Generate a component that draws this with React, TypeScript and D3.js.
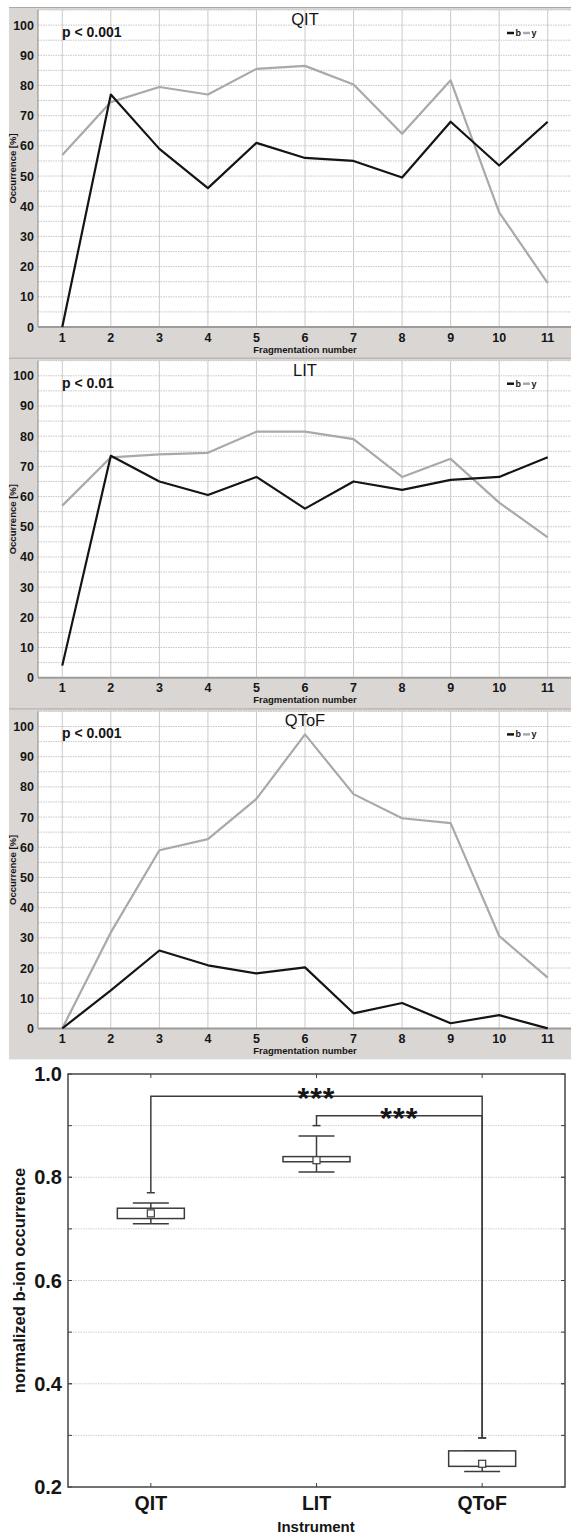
import React from "react";
import * as d3 from "d3";

// Fragmentation numbers on the x axis of the three line panels
const fragmentNumbers = [1, 2, 3, 4, 5, 6, 7, 8, 9, 10, 11];
const occurrenceTicks = [0, 10, 20, 30, 40, 50, 60, 70, 80, 90, 100];
const occurrenceGrid = [5, 10, 15, 20, 25, 30, 35, 40, 45, 50, 55, 60, 65, 70, 75, 80, 85, 90, 95, 100, 105];

// Occurrence [%] of b ions and y ions per fragmentation number
const qitB = [0, 77, 59, 46, 61, 56, 55, 49.5, 68, 53.5, 68];
const qitY = [57, 74.5, 79.5, 77, 85.5, 86.5, 80.3, 64, 81.7, 38, 14.5];
const litB = [4, 73.5, 65, 60.5, 66.5, 56, 65, 62.2, 65.5, 66.5, 73];
const litY = [57, 73, 74, 74.5, 81.5, 81.5, 79, 66.5, 72.5, 58, 46.5];
const qtofB = [0, 12.6, 25.8, 20.9, 18.2, 20.2, 5, 8.4, 1.7, 4.4, 0];
const qtofY = [0, 31.8, 59, 62.7, 76, 97.4, 77.6, 69.6, 68, 30.6, 16.8];

const panelTitles = ["QIT", "LIT", "QToF"];
const panelPValues = ["p < 0.001", "p < 0.01", "p < 0.001"];
const panelB = [qitB, litB, qtofB];
const panelY = [qitY, litY, qtofY];

// Normalized b-ion occurrence per instrument
const instruments = ["QIT", "LIT", "QToF"];
const whiskerLow = [0.71, 0.81, 0.23];
const boxLow = [0.72, 0.83, 0.24];
const meanValue = [0.73, 0.833, 0.245];
const boxHigh = [0.74, 0.84, 0.27];
const whiskerHigh = [0.75, 0.88, 0.27];
const normTicks = [0.2, 0.4, 0.6, 0.8, 1.0];
const normGrid = [0.3, 0.4, 0.5, 0.6, 0.7, 0.8, 0.9];

// Significance brackets between instruments
const bracketFrom = ["QIT", "LIT"];
const bracketTo = ["QToF", "QToF"];
const bracketFromEnd = [0.77, 0.9];
const bracketToEnd = [0.295, 0.295];
const bracketLevel = [0.957, 0.919];
const bracketLabel = ["***", "***"];

const FONT = "'Liberation Sans', Arial, Helvetica, sans-serif";
const PANEL_BG = "#dad6d4";
const TEXT = "#151515";

const W = 571;
const H = 1537;

function LinePanel({ index }: { index: number }) {
  const top = 7 + index * 350.7;
  const plotTop = top + 3;
  const plotBottom = top + 320;
  const x = d3.scaleLinear().domain([0.5, 11.5]).range([38, 572]);
  const y = d3.scaleLinear().domain([0, 105]).range([plotBottom, plotTop]);
  const line = d3
    .line<number>()
    .x((_, i) => x(fragmentNumbers[i]))
    .y((d) => y(d));
  const midY = (plotTop + plotBottom) / 2;
  return (
    <g>
      <rect x={9} y={top} width={W - 9} height={351} fill={PANEL_BG} />
      <line x1={9} x2={W} y1={top + 0.5} y2={top + 0.5} stroke="#aea9a7" strokeWidth={1} />
      <rect x={38} y={plotTop} width={W - 38} height={plotBottom - plotTop} fill="#fff" />
      {occurrenceGrid.map((v) => (
        <line
          key={"h" + v}
          x1={38}
          x2={W}
          y1={y(v)}
          y2={y(v)}
          stroke="#c6c6c6"
          strokeWidth={1}
          strokeDasharray="1.5,1"
        />
      ))}
      {fragmentNumbers.map((f) => (
        <line key={"v" + f} x1={x(f)} x2={x(f)} y1={plotTop} y2={plotBottom} stroke="#cacaca" strokeWidth={1} />
      ))}
      <line x1={38} x2={38} y1={plotTop} y2={plotBottom} stroke="#8a8a8a" strokeWidth={1} />
      <line x1={38} x2={W} y1={plotBottom} y2={plotBottom} stroke="#9c9c9c" strokeWidth={2} />
      <path d={line(panelY[index]) || ""} fill="none" stroke="#a9a9a9" strokeWidth={2.2} strokeLinejoin="round" />
      <path d={line(panelB[index]) || ""} fill="none" stroke="#141414" strokeWidth={2.2} strokeLinejoin="round" />
      {occurrenceTicks.map((v) => (
        <text
          key={"yt" + v}
          x={34}
          y={y(v) + 4.5}
          textAnchor="end"
          fontSize={12.5}
          fontWeight="bold"
          fill={TEXT}
          fontFamily={FONT}
        >
          {v}
        </text>
      ))}
      {fragmentNumbers.map((f) => (
        <text
          key={"xt" + f}
          x={x(f)}
          y={plotBottom + 14.5}
          textAnchor="middle"
          fontSize={12.5}
          fontWeight="bold"
          fill={TEXT}
          fontFamily={FONT}
        >
          {f}
        </text>
      ))}
      <text
        x={305}
        y={plotBottom + 25.5}
        textAnchor="middle"
        fontSize={9.5}
        fontWeight="bold"
        fill={TEXT}
        fontFamily={FONT}
      >
        Fragmentation number
      </text>
      <text
        transform={`translate(16,${midY}) rotate(-90)`}
        textAnchor="middle"
        fontSize={9.5}
        fontWeight="bold"
        fill={TEXT}
        fontFamily={FONT}
      >
        Occurrence [%]
      </text>
      <text x={305} y={top + 18} textAnchor="middle" fontSize={16.5} fill={TEXT} fontFamily={FONT}>
        {panelTitles[index]}
      </text>
      <text x={62} y={top + 30} fontSize={14} fontWeight="bold" fill={TEXT} fontFamily={FONT}>
        {panelPValues[index]}
      </text>
      <line x1={507} x2={514} y1={top + 26} y2={top + 26} stroke="#141414" strokeWidth={2.5} />
      <text x={515.5} y={top + 29} fontSize={9} fontWeight="bold" fill={TEXT} fontFamily={FONT}>
        b
      </text>
      <line x1={523} x2={530} y1={top + 26} y2={top + 26} stroke="#a9a9a9" strokeWidth={2.5} />
      <text x={531.5} y={top + 29} fontSize={9} fontWeight="bold" fill={TEXT} fontFamily={FONT}>
        y
      </text>
    </g>
  );
}

function BoxPanel() {
  const left = 68;
  const right = 565;
  const x = d3.scalePoint<string>().domain(instruments).range([left, right]).padding(0.5);
  const y = d3.scaleLinear().domain([0.2, 1.0]).range([1487, 1074]);
  const stroke = "#3c3c3c";
  const boxW = 67;
  const capW = 36;
  const sq = 7;
  return (
    <g>
      {normGrid.map((v) => (
        <line
          key={"g" + v}
          x1={left}
          x2={right}
          y1={y(v)}
          y2={y(v)}
          stroke="#cfcfcf"
          strokeWidth={1}
          strokeDasharray="1.5,1"
        />
      ))}
      <rect x={left} y={y(1.0)} width={right - left} height={y(0.2) - y(1.0)} fill="none" stroke="#444" strokeWidth={1.5} />
      {normGrid.concat(normTicks).map((v, i) => (
        <g key={"tk" + i}>
          <line x1={left} x2={left + 4} y1={y(v)} y2={y(v)} stroke="#444" strokeWidth={1} />
          <line x1={right - 4} x2={right} y1={y(v)} y2={y(v)} stroke="#444" strokeWidth={1} />
        </g>
      ))}
      {instruments.map((name) => (
        <g key={"xt" + name}>
          <line x1={x(name)} x2={x(name)} y1={y(1.0)} y2={y(1.0) + 4} stroke="#444" strokeWidth={1} />
          <line x1={x(name)} x2={x(name)} y1={y(0.2)} y2={y(0.2) - 4} stroke="#444" strokeWidth={1} />
        </g>
      ))}
      {instruments.map((name, i) => {
        const cx = x(name) as number;
        return (
          <g key={"box" + name} stroke={stroke} fill="none" strokeWidth={1.5}>
            <line x1={cx} x2={cx} y1={y(whiskerHigh[i])} y2={y(boxHigh[i])} />
            <line x1={cx} x2={cx} y1={y(boxLow[i])} y2={y(whiskerLow[i])} />
            <line x1={cx - capW / 2} x2={cx + capW / 2} y1={y(whiskerHigh[i])} y2={y(whiskerHigh[i])} />
            <line x1={cx - capW / 2} x2={cx + capW / 2} y1={y(whiskerLow[i])} y2={y(whiskerLow[i])} />
            <rect
              x={cx - boxW / 2}
              y={y(boxHigh[i])}
              width={boxW}
              height={y(boxLow[i]) - y(boxHigh[i])}
              fill="#fff"
            />
            <rect x={cx - sq / 2} y={y(meanValue[i]) - sq / 2} width={sq} height={sq} fill="#fff" strokeWidth={1.2} />
          </g>
        );
      })}
      {bracketFrom.map((from, i) => {
        const x1 = x(from) as number;
        const x2 = x(bracketTo[i]) as number;
        const yl = y(bracketLevel[i]);
        const p = d3.path();
        p.moveTo(x1, y(bracketFromEnd[i]));
        p.lineTo(x1, yl);
        p.lineTo(x2, yl);
        p.lineTo(x2, y(bracketToEnd[i]));
        return (
          <g key={"br" + i}>
            <path d={p.toString()} fill="none" stroke={stroke} strokeWidth={1.5} />
            <line
              x1={x1 - 4}
              x2={x1 + 4}
              y1={y(bracketFromEnd[i])}
              y2={y(bracketFromEnd[i])}
              stroke={stroke}
              strokeWidth={1.5}
            />
            <line
              x1={x2 - 4}
              x2={x2 + 4}
              y1={y(bracketToEnd[i])}
              y2={y(bracketToEnd[i])}
              stroke={stroke}
              strokeWidth={1.5}
            />
            <text
              x={(x1 + x2) / 2}
              y={yl + 12}
              textAnchor="middle"
              fontSize={30}
              fontWeight="bold"
              letterSpacing={1}
              fill={TEXT}
              fontFamily={FONT}
            >
              {bracketLabel[i]}
            </text>
          </g>
        );
      })}
      {normTicks.map((v) => (
        <text
          key={"yl" + v}
          x={62}
          y={y(v) + 7}
          textAnchor="end"
          fontSize={20}
          fontWeight="bold"
          fill={TEXT}
          fontFamily={FONT}
        >
          {v.toFixed(1)}
        </text>
      ))}
      {instruments.map((name) => (
        <text
          key={"xl" + name}
          x={x(name)}
          y={1510}
          textAnchor="middle"
          fontSize={19.5}
          fontWeight="bold"
          fill={TEXT}
          fontFamily={FONT}
        >
          {name}
        </text>
      ))}
      <text x={316} y={1532} textAnchor="middle" fontSize={15} fontWeight="bold" fill={TEXT} fontFamily={FONT}>
        Instrument
      </text>
      <text
        transform={`translate(25,${(y(1.0) + y(0.2)) / 2}) rotate(-90)`}
        textAnchor="middle"
        fontSize={16.5}
        fontWeight="bold"
        fill={TEXT}
        fontFamily={FONT}
      >
        normalized b-ion occurrence
      </text>
    </g>
  );
}

export default function App() {
  return (
    <svg
      width={W}
      height={H}
      viewBox={`0 0 ${W} ${H}`}
      style={{ position: "absolute", left: 0, top: 0, display: "block", background: "#fff" }}
    >
      <rect x={0} y={0} width={W} height={H} fill="#fff" />
      {[0, 1, 2].map((i) => (
        <LinePanel key={i} index={i} />
      ))}
      <BoxPanel />
    </svg>
  );
}
